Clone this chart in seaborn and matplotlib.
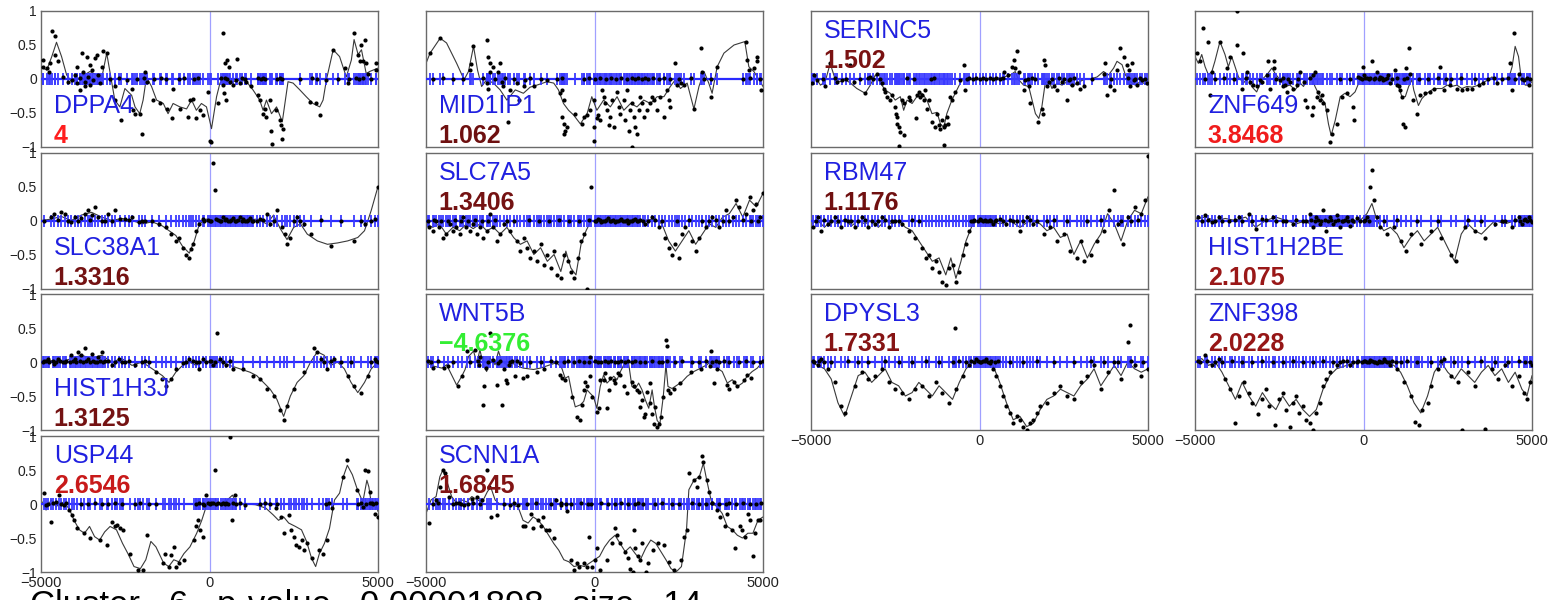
import numpy as np
import seaborn as sns
import matplotlib
matplotlib.use("Agg")
from matplotlib import pyplot as plt

# ---- data (x: bp from TSS, y: signal) ----
dppa4_line = [(-5000, 0.18), (-4830, 0.13), (-4680, 0.33), (-4540, 0.54), (-4390, 0.33), (-4240, 0.06), (-4090, -0.04),
              (-3840, 0.02), (-3550, 0.11), (-3350, 0.06), (-3200, 0.01), (-3050, 0.38), (-2810, -0.31), (-2660, -0.41),
              (-2510, -0.14), (-2310, -0.24), (-2210, -0.41), (-2070, -0.51), (-1970, -0.31), (-1870, 0.03), (-1720, -0.11),
              (-1570, -0.31), (-1370, -0.36), (-1230, -0.51), (-1080, -0.36), (-880, -0.41), (-680, -0.44), (-530, -0.31),
              (-390, -0.46), (-240, -0.36), (-90, -0.41), (60, -0.73), (210, -0.26), (310, -0.06), (500, 0.03), (700, -0.04),
              (900, -0.01), (1100, -0.04), (1290, -0.16), (1490, -0.31), (1590, -0.46), (1690, -0.31), (1840, -0.51),
              (1990, -0.41), (2160, -0.63), (2330, -0.04), (2480, -0.06), (2680, -0.16), (2870, -0.26), (3070, -0.36),
              (3270, -0.41), (3370, -0.31), (3470, -0.01), (3670, 0.43), (3860, 0.33), (4060, 0.03), (4210, 0.28),
              (4290, 0.58), (4410, 0.36), (4510, 0.43), (4650, 0.08), (4750, 0.11), (5000, 0.16)]
dppa4_dots = [(-4951, 0.28), (-4931, 0.18), (-4832, 0.16), (-4753, 0.11), (-4684, 0.70), (-4585, 0.63), (-4733, 0.23),
              (-4585, 0.36), (-4486, 0.26), (-4338, 0.03), (-4190, -0.04), (-4091, -0.01), (-3992, 0.06), (-3943, -0.06),
              (-3844, 0.01), (-3795, 0.38), (-3745, 0.11), (-3696, -0.04), (-3647, 0.33), (-3597, 0.03), (-3548, -0.09),
              (-3498, 0.13), (-3449, -0.01), (-3399, 0.31), (-3350, 0.36), (-3300, 0.06), (-3251, -0.06), (-3202, 0.18),
              (-3152, 0.41), (-3054, 0.38), (-3844, -0.16), (-3696, -0.11), (-3943, 0.18), (-3548, 0.21), (-2807, -0.31),
              (-2807, -0.11), (-2639, -0.61), (-2313, -0.14), (-2264, -0.46), (-2214, -0.51), (-2066, -0.51), (-2017, -0.81),
              (-1918, 0.11), (-1868, -0.04), (-1671, -0.31), (-1473, -0.36), (-1275, -0.44), (-1127, -0.58), (-1078, -0.15),
              (-880, -0.44), (-633, -0.56), (-584, -0.31), (-485, -0.29), (-386, -0.58), (-287, -0.46), (-189, -0.53),
              (-41, -0.19), (28, -0.91), (58, -0.93), (255, -0.36), (394, 0.68), (414, -0.09), (434, -0.21), (463, 0.23),
              (503, -0.31), (523, 0.28), (582, 0.18), (602, -0.04), (701, -0.09), (800, -0.01), (830, 0.29), (898, -0.06),
              (1096, -0.04), (1244, -0.11), (1442, -0.24), (1491, -0.31), (1590, -0.51), (1639, -0.44), (1689, -0.56),
              (1808, -0.31), (1837, -0.76), (1867, -0.96), (1985, -0.46), (2084, -0.61), (2134, -0.68), (2163, -0.88),
              (2183, -0.73), (2974, -0.34), (3171, -0.36), (3270, -0.53), (3467, -0.01), (3665, 0.43), (4011, 0.16),
              (4110, -0.06), (4287, 0.68), (4406, 0.36), (4455, 0.26), (4505, 0.50), (4604, 0.58), (4554, 0.26),
              (4653, 0.23), (4703, 0.08), (4950, 0.23), (4950, 0.13),
              (-2950, 0.0), (-2700, 0.01), (-2450, -0.01), (-2150, 0.0), (-1950, 0.02), (-1650, 0.0), (-1450, 0.01),
              (-1300, 0.0), (-900, 0.0), (-750, 0.01), (-450, 0.0), (-330, 0.01), (350, 0.02), (450, 0.01), (520, 0.0),
              (950, 0.01), (1050, 0.0), (1450, 0.01), (1520, 0.0), (1600, 0.02), (1650, 0.0), (2000, 0.0), (2100, 0.01),
              (2150, 0.0), (2700, 0.0), (3050, 0.01), (3200, 0.0), (3800, 0.0), (4150, 0.0), (4350, 0.01), (4450, 0.0),
              (4560, 0.01), (4800, 0.0)]

mid1ip1_line = [(-5000, 0.23), (-4880, 0.38), (-4580, 0.60), (-4390, 0.53), (-4090, 0.23), (-3870, -0.01), (-3740, 0.11),
                (-3590, 0.48), (-3470, 0.13), (-3350, -0.11), (-3200, -0.01), (-3000, -0.06), (-2800, -0.16), (-2600, -0.31),
                (-2350, -0.16), (-2110, -0.21), (-1910, -0.12), (-1710, -0.09), (-1410, -0.04), (-1210, -0.06), (-1070, -0.16),
                (-920, -0.36), (-770, -0.46), (-620, -0.53), (-420, -0.66), (-220, -0.51), (-80, -0.26), (70, -0.46),
                (270, -0.31), (470, -0.41), (670, -0.26), (870, -0.46), (1070, -0.36), (1260, -0.41), (1460, -0.31),
                (1660, -0.36), (1860, -0.26), (2060, -0.26), (2250, -0.11), (2400, -0.01), (2550, -0.14), (2750, -0.06),
                (2950, -0.44), (3100, -0.11), (3250, 0.11), (3390, -0.06), (3490, -0.21), (3640, 0.18), (3840, 0.38),
                (4140, 0.50), (4460, 0.55), (4580, 0.18), (4730, 0.11), (4880, -0.01), (5000, -0.11)]
mid1ip1_dots = [(-4881, 0.38), (-4584, 0.60), (-3662, 0.22), (-3692, 0.13), (-3613, 0.48), (-3196, 0.58), (-3147, 0.33),
                (-3097, 0.23), (-3097, 0.11), (-2998, 0.18), (-2800, 0.23), (-2850, 0.11), (-3196, -0.06), (-3147, -0.14),
                (-2750, -0.04), (-2701, -0.11), (-2552, -0.63), (-2503, -0.16), (-2305, -0.06), (-2255, -0.31), (-2106, -0.11),
                (-2057, -0.01), (-1810, -0.11), (-1413, -0.01), (-967, -0.16), (-1016, -0.21), (-917, -0.31), (-967, -0.56),
                (-917, -0.66), (-868, -0.76), (-818, -0.71), (-917, -0.81), (-570, -0.51), (-372, -0.66), (-323, -0.56),
                (-224, -0.53), (-125, -0.46), (-25, -0.31), (-25, -0.71), (-6, -0.91), (74, -0.58), (94, -0.53), (173, -0.61),
                (272, -0.26), (222, -0.16), (322, -0.36), (371, -0.46), (421, -0.68), (470, -0.56), (520, -0.31), (569, -0.71),
                (669, -0.19), (718, -0.41), (768, -0.51), (867, -0.31), (916, -0.61), (966, -0.16), (1015, -0.76),
                (1065, -0.46), (1114, -0.36), (1164, -0.56), (1213, -0.71), (1263, -0.81), (1313, -0.46), (1362, -0.26),
                (1412, -0.36), (1461, -0.56), (1560, -0.46), (1659, -0.36), (1709, -0.26), (1759, -0.31), (1858, -0.46),
                (1957, -0.26), (2056, -0.56), (2155, -0.16), (2205, -0.31), (2254, -0.41), (2403, 0.23), (2453, -0.09),
                (2552, -0.06), (2651, -0.09), (2948, -0.44), (3146, 0.46), (3196, 0.11), (3443, -0.26), (3642, 0.18),
                (4484, 0.55), (4533, 0.28), (4583, 0.13), (4831, 0.33), (4831, 0.26), (4930, -0.16), (4732, 0.16),
                (1114, -1.0),
                (-4800, 0.0), (-4500, 0.01), (-4200, 0.0), (-3900, 0.0), (-3300, 0.01), (-2950, 0.0), (-2650, 0.02),
                (-2400, 0.0), (-1900, 0.01), (-1600, 0.0), (-1100, 0.0), (-950, 0.01), (-300, 0.0), (-150, 0.01), (0, 0.0),
                (150, 0.02), (350, 0.0), (500, 0.01), (650, 0.0), (800, 0.02), (950, 0.0), (1100, 0.01), (1200, 0.0),
                (1300, 0.02), (1400, 0.0), (1500, 0.01), (1600, 0.0), (1750, 0.01), (1900, 0.0), (2050, 0.02), (2250, 0.0),
                (2500, 0.0), (2850, 0.01), (3250, 0.0), (3450, 0.0), (4400, 0.0), (4600, 0.01), (4900, 0.0)]

serinc5_line = [(-5000, -0.01), (-4870, 0.03), (-4720, -0.09), (-4580, -0.04), (-4430, 0.23), (-4280, -0.01), (-4130, -0.04),
                (-3980, -0.01), (-3830, -0.06), (-3640, -0.14), (-3390, -0.21), (-3240, -0.09), (-3090, 0.06), (-2940, -0.06),
                (-2800, -0.16), (-2650, -0.21), (-2500, -0.31), (-2350, -0.26), (-2250, -0.46), (-2150, -0.31), (-2000, -0.36),
                (-1860, -0.26), (-1710, -0.21), (-1560, -0.31), (-1410, -0.51), (-1260, -0.49), (-1160, -0.66), (-1060, -0.71),
                (-970, -0.51), (-820, -0.31), (-670, -0.16), (-520, -0.01), (-270, 0.0), (20, 0.0), (520, 0.01), (720, 0.03),
                (920, 0.06), (1060, 0.11), (1160, -0.01), (1310, -0.09), (1460, -0.11), (1560, -0.31), (1660, -0.51),
                (1760, -0.58), (1850, -0.41), (1950, -0.06), (2050, -0.01), (2150, -0.14), (2300, -0.06), (2450, -0.09),
                (2600, -0.04), (2740, -0.11), (2890, -0.06), (3090, -0.01), (3290, 0.0), (3490, 0.03), (3680, 0.11),
                (3830, 0.06), (3980, 0.16), (4080, 0.26), (4230, 0.21), (4330, 0.06), (4480, -0.04), (4620, -0.09),
                (4770, -0.04), (5000, -0.09)]
serinc5_dots = [(-4970, -0.06), (-4920, 0.06), (-4820, -0.01), (-4570, -0.11), (-4430, 0.23), (-4230, -0.04), (-4080, -0.01),
                (-3830, 0.21), (-3730, -0.04), (-3390, -0.21), (-3240, 0.03), (-3040, 0.08), (-2890, -0.06), (-2840, -0.14),
                (-2790, -0.19), (-2740, -0.26), (-2650, -0.31), (-2600, -0.24), (-2500, -0.41), (-2470, -0.51), (-2450, -0.56),
                (-2450, -0.66), (-2400, -0.71), (-2350, -0.78), (-2250, -0.83), (-2400, -0.99), (-2300, -0.31), (-2250, -0.36),
                (-2100, -0.26), (-2050, -0.31), (-1880, -0.58), (-1850, -0.24), (-1810, -0.19), (-1760, -0.26), (-1710, -0.24),
                (-1660, -0.31), (-1610, -0.16), (-1560, -0.44), (-1510, -0.31), (-1410, -0.63), (-1310, -0.71), (-1260, -0.51),
                (-1210, -0.68), (-1160, -0.73), (-1110, -0.61), (-1060, -0.71), (-1060, -0.97), (-1010, -0.68), (-960, -0.56),
                (-920, -0.66), (-870, -0.26), (-820, -0.31), (-720, -0.19), (-570, -0.01), (-470, 0.21), (-420, -0.16),
                (-380, 0.0), (-300, 0.01), (-200, 0.0), (-100, 0.02), (0, 0.0), (100, 0.01), (200, 0.0), (300, 0.02),
                (400, 0.0), (500, 0.01), (600, 0.0), (700, 0.02),
                (720, 0.11), (860, 0.06), (960, 0.18), (1010, 0.28), (1060, 0.16), (1110, 0.41), (1160, 0.11), (1310, -0.16),
                (1360, -0.01), (1460, -0.11), (1510, -0.36), (1750, -0.63), (1850, -0.44), (1880, -0.51), (1900, 0.28),
                (1930, 0.21), (2000, -0.11), (2050, -0.04), (2200, -0.11), (2300, -0.16), (2450, -0.04), (2600, -0.31),
                (2650, -0.01), (2740, -0.09), (2890, -0.06), (2990, -0.14), (3090, -0.11), (3680, 0.08), (3730, 0.23),
                (3780, -0.24), (3880, -0.11), (3980, -0.16), (4080, 0.13), (4160, 0.46), (4280, 0.33), (4380, 0.21),
                (4430, 0.13), (4480, -0.11), (4520, 0.23), (4570, -0.01), (4670, -0.09), (4820, -0.01), (4970, -0.06),
                (-4650, 0.0), (-4300, 0.01), (-3950, 0.0), (-3550, 0.0), (-3300, 0.01), (-3150, 0.0), (-2950, 0.0),
                (-2150, 0.01), (-1950, 0.0), (-1450, 0.0), (-1350, 0.01), (1450, 0.0), (1550, 0.01), (1650, 0.0),
                (2150, 0.0), (2350, 0.01), (2500, 0.0), (2700, 0.0), (2800, 0.01), (3350, 0.0), (3900, 0.0), (4400, 0.01),
                (4600, 0.0), (4750, 0.01), (4900, 0.0)]

znf649_line = [(-5000, 0.33), (-4900, 0.23), (-4800, 0.36), (-4700, 0.18), (-4600, 0.06), (-4500, 0.11), (-4410, 0.26),
               (-4260, 0.55), (-4110, 0.36), (-4010, 0.18), (-3910, 0.33), (-3810, 0.18), (-3710, 0.03), (-3560, -0.06),
               (-3420, 0.03), (-3320, -0.11), (-3170, -0.19), (-3020, -0.01), (-2870, 0.06), (-2720, 0.16), (-2620, 0.08),
               (-2480, -0.01), (-2330, -0.11), (-2180, -0.09), (-2030, -0.16), (-1880, -0.06), (-1780, -0.11), (-1680, -0.01),
               (-1540, 0.03), (-1440, -0.11), (-1340, -0.21), (-1240, -0.29), (-1140, -0.36), (-1040, -0.66), (-960, -0.83),
               (-840, -0.61), (-690, -0.26), (-550, -0.21), (-400, -0.26), (-250, -0.19), (-100, -0.01), (0, 0.0), (200, 0.0),
               (590, -0.01), (840, 0.01), (990, -0.04), (1140, -0.26), (1240, -0.26), (1340, -0.11), (1440, -0.01),
               (1490, -0.16), (1630, -0.39), (1730, -0.29), (1880, -0.21), (2030, -0.16), (2180, -0.14), (2330, -0.14),
               (2480, -0.09), (2620, -0.11), (2770, -0.09), (2920, -0.14), (3070, -0.11), (3220, -0.12), (3420, -0.09),
               (3560, -0.05), (3710, -0.01), (3810, 0.03), (3960, -0.01), (4110, 0.01), (4310, 0.01), (4410, 0.18),
               (4500, 0.48), (4600, 0.33), (4680, 0.01), (4800, -0.09), (4900, -0.09), (5000, -0.04)]
znf649_dots = [(-4950, 0.38), (-4850, 0.26), (-4770, 0.75), (-4600, 0.55), (-4550, -0.24), (-4500, 0.11), (-4260, 0.55),
               (-4040, 0.16), (-3960, 0.33), (-3740, 1.0), (-3760, 0.50), (-3610, -0.14), (-3580, 0.38), (-3470, 0.11),
               (-3370, -0.04), (-3270, -0.09), (-3170, -0.11), (-3070, -0.01), (-3020, -0.04), (-2870, 0.06), (-2820, 0.26),
               (-2670, 0.26), (-2770, -0.14), (-2650, 0.16), (-2480, -0.01), (-2380, -0.11), (-2330, -0.09), (-2280, -0.19),
               (-2180, -0.04), (-2080, -0.14), (-1980, -0.09), (-1880, 0.11), (-1780, -0.04), (-1730, -0.31), (-1680, -0.41),
               (-1540, -0.53), (-1490, -0.41), (-1490, 0.06), (-1440, 0.11), (-1390, -0.26), (-1340, -0.19), (-1290, -0.31),
               (-1240, -0.24), (-1190, -0.36), (-1090, -0.46), (-990, -0.93), (-940, -0.81), (-790, -0.66), (-640, -0.26),
               (-500, -0.21), (-300, -0.41), (-280, -0.61), (-150, 0.03), (-20, 0.18), (0, 0.06), (100, 0.01), (250, 0.26),
               (400, 0.11), (490, 0.03), (590, -0.01), (740, 0.06), (790, -0.06), (940, 0.13), (990, -0.09), (1040, -0.11),
               (1090, -0.16), (1140, -0.26), (1170, -0.66), (1240, -0.71), (1270, 0.16), (1340, 0.46), (1390, 0.08),
               (1480, -0.31), (1580, -0.51), (1680, -0.24), (1830, -0.21), (1980, -0.19), (2080, -0.14), (2280, 0.18),
               (2380, -0.16), (2570, -0.09), (2770, -0.14), (2920, -0.16), (3070, -0.14), (3220, -0.14), (3420, -0.09),
               (3560, -0.06), (3860, 0.02), (3960, -0.06), (4360, 0.23), (4410, -0.16), (4480, 0.68), (4600, 0.08),
               (4750, -0.01), (4900, -0.09),
               (-4700, 0.0), (-4400, 0.0), (-4150, 0.01), (-3850, 0.0), (-3500, 0.01), (-2600, 0.0), (-2400, 0.01),
               (-2250, 0.0), (-1950, 0.0), (-1600, 0.01), (-700, 0.0), (-400, 0.0), (-100, 0.01), (-50, 0.0), (50, 0.02),
               (150, 0.0), (200, 0.01), (300, 0.0), (350, 0.02), (450, 0.0), (550, 0.01), (650, 0.0), (700, 0.02),
               (850, 0.0), (1000, 0.01), (1200, 0.0), (1300, 0.01), (1650, 0.0), (1900, 0.0), (2200, 0.01), (2450, 0.0),
               (2600, 0.0), (2900, 0.01), (3300, 0.0), (3700, 0.0), (4100, 0.0), (4300, 0.01), (4500, 0.0), (4700, 0.0),
               (4850, 0.01), (4950, 0.0)]

slc38a1_line = [(-5000, 0.0), (-4700, 0.02), (-4400, 0.06), (-4100, 0.0), (-3800, 0.08), (-3500, 0.12), (-3200, 0.05),
                (-2900, 0.0), (-2600, 0.03), (-2300, 0.0), (-2000, -0.05), (-1700, -0.02), (-1400, -0.08), (-1200, -0.15),
                (-1000, -0.22), (-800, -0.38), (-600, -0.48), (-450, -0.3), (-300, -0.05), (-100, 0.02), (200, 0.0),
                (600, 0.03), (1000, 0.0), (1400, 0.02), (1700, -0.05), (1900, 0.08), (2100, -0.12), (2300, -0.28),
                (2500, -0.1), (2700, -0.05), (2900, -0.2), (3200, -0.3), (3500, -0.35), (3800, -0.33), (4100, -0.3),
                (4400, -0.25), (4600, -0.15), (4800, 0.15), (5000, 0.5)]
slc38a1_dots = [(-4700, 0.05), (-4600, 0.1), (-4400, 0.12), (-4300, 0.1), (-4100, -0.02), (-4000, 0.05), (-3800, 0.03),
                (-3700, 0.1), (-3600, 0.15), (-3500, 0.08), (-3400, 0.2), (-3300, 0.05), (-3100, 0.0), (-3000, 0.1),
                (-2800, 0.15), (-2650, 0.02), (-2500, 0.02), (-2300, 0.05), (-2100, -0.02), (-1900, 0.0), (-1500, -0.05),
                (-1300, -0.1), (-1150, -0.2), (-1000, -0.3), (-900, -0.25), (-800, -0.4), (-700, -0.5), (-600, -0.55),
                (-550, -0.42), (-500, -0.35), (-400, -0.15), (-300, -0.05), (-200, 0.02), (0, 0.0), (100, 0.85), (150, 0.45),
                (200, 0.02), (300, 0.0), (400, 0.05), (500, 0.02), (600, 0.0), (700, 0.03), (800, 0.0), (900, 0.05),
                (1000, 0.02), (1100, 0.0), (1200, 0.03), (1300, 0.0), (1500, 0.02), (1700, 0.1), (1800, -0.05), (2000, 0.15),
                (2150, -0.1), (2250, -0.2), (2300, -0.35), (2400, -0.25), (2500, 0.0), (2600, 0.05), (2800, -0.05),
                (3000, -0.2), (3600, -0.38), (4300, -0.3), (4600, -0.05), (4800, 0.0), (4900, 0.02), (5000, 0.5),
                (-4900, 0.0), (-4500, 0.01), (-4200, 0.0), (-3900, 0.0), (-3550, 0.01), (-3200, 0.0), (-2900, 0.0),
                (-2400, 0.01), (-2000, 0.0), (-1700, 0.0), (-150, 0.0), (-50, 0.01), (50, 0.0), (250, 0.01), (350, 0.0),
                (450, 0.01), (550, 0.0), (650, 0.01), (750, 0.0), (850, 0.01), (950, 0.0), (1050, 0.0), (1150, 0.01),
                (1250, 0.0), (1400, 0.0), (1600, 0.01), (1900, 0.0), (2700, 0.0), (3300, 0.01), (3900, 0.0), (4500, 0.0)]

slc7a5_line = [(-5000, -0.05), (-4800, -0.1), (-4600, -0.05), (-4400, -0.2), (-4200, -0.1), (-4000, -0.15), (-3800, -0.05),
               (-3600, -0.12), (-3400, -0.05), (-3200, -0.15), (-3000, -0.1), (-2800, -0.2), (-2600, -0.1), (-2400, -0.25),
               (-2200, -0.35), (-2000, -0.3), (-1800, -0.5), (-1600, -0.4), (-1400, -0.6), (-1200, -0.5), (-1000, -0.75),
               (-850, -0.45), (-700, -0.7), (-550, -0.8), (-400, -0.35), (-250, -0.15), (-100, 0.0), (200, 0.0), (600, 0.02),
               (1000, 0.0), (1400, 0.0), (1800, 0.02), (2000, -0.05), (2200, -0.3), (2400, -0.45), (2600, -0.3),
               (2800, -0.15), (3000, -0.35), (3200, -0.2), (3400, -0.05), (3600, -0.1), (3800, 0.05), (4000, 0.1),
               (4200, 0.25), (4400, 0.05), (4600, 0.3), (4800, 0.2), (5000, 0.4)]
slc7a5_dots = [(-4900, -0.1), (-4800, -0.15), (-4700, 0.0), (-4600, -0.1), (-4500, -0.25), (-4400, -0.2), (-4300, -0.05),
               (-4200, -0.15), (-4100, -0.1), (-4000, -0.2), (-3900, 0.05), (-3800, -0.1), (-3700, -0.15), (-3600, -0.05),
               (-3500, -0.2), (-3400, -0.1), (-3300, -0.25), (-3200, -0.15), (-3100, 0.1), (-3000, -0.1), (-2900, -0.3),
               (-2800, -0.2), (-2700, -0.05), (-2500, -0.15), (-2300, -0.3), (-2200, -0.45), (-2100, -0.25), (-2000, -0.4),
               (-1900, -0.55), (-1800, -0.45), (-1700, -0.6), (-1600, -0.35), (-1500, -0.65), (-1400, -0.5), (-1300, -0.7),
               (-1200, -0.45), (-1100, -0.8), (-1000, -0.85), (-900, -0.5), (-800, -0.6), (-700, -0.75), (-600, -0.85),
               (-500, -0.55), (-400, -0.3), (-300, -0.2), (-220, -1.0), (-100, 0.5), (0, 0.0), (100, 0.02), (200, -0.02),
               (300, 0.0), (400, 0.03), (500, 0.0), (600, -0.02), (700, 0.0), (800, 0.02), (900, 0.0), (1000, -0.03),
               (1100, 0.0), (1200, 0.02), (1300, 0.0), (1500, -0.05), (1700, 0.05), (1900, -0.1), (2100, -0.25),
               (2200, -0.4), (2300, -0.5), (2400, -0.35), (2500, -0.55), (2600, -0.2), (2700, -0.1), (2900, -0.3),
               (3000, -0.45), (3100, -0.25), (3300, -0.1), (3500, 0.05), (3700, -0.1), (3900, 0.15), (4100, 0.05),
               (4200, 0.3), (4300, 0.2), (4500, 0.1), (4600, 0.35), (4700, 0.15), (4800, 0.25), (4900, 0.05), (5000, 0.4),
               (-4950, 0.0), (-4750, 0.01), (-4550, 0.0), (-4350, 0.0), (-4150, 0.01), (-3950, 0.0), (-3750, 0.0),
               (-3550, 0.01), (-3350, 0.0), (-3150, 0.0), (-2950, 0.01), (-2600, 0.0), (-2400, 0.0), (-1950, 0.01),
               (-1650, 0.0), (-1350, 0.0), (-1050, 0.01), (-750, 0.0), (-450, 0.0), (-150, 0.01), (50, 0.0), (150, 0.01),
               (250, 0.0), (350, 0.01), (450, 0.0), (550, 0.01), (650, 0.0), (750, 0.01), (850, 0.0), (950, 0.01),
               (1050, 0.0), (1150, 0.01), (1250, 0.0), (1350, 0.01), (1450, 0.0), (1600, 0.0), (1800, 0.01), (2000, 0.0),
               (2450, 0.0), (2800, 0.01), (3200, 0.0), (3400, 0.0), (3600, 0.01), (3800, 0.0), (4000, 0.0), (4400, 0.01),
               (4650, 0.0), (4850, 0.0)]

rbm47_line = [(-5000, -0.05), (-4800, 0.0), (-4600, -0.1), (-4400, 0.0), (-4200, -0.05), (-4000, 0.02), (-3800, -0.08),
              (-3600, 0.0), (-3400, -0.05), (-3200, 0.0), (-3000, -0.1), (-2800, 0.0), (-2600, -0.05), (-2400, 0.0),
              (-2200, -0.1), (-2000, -0.15), (-1800, -0.3), (-1600, -0.45), (-1400, -0.6), (-1200, -0.55), (-1000, -0.8),
              (-850, -0.55), (-700, -0.85), (-550, -0.6), (-400, -0.3), (-200, -0.05), (0, 0.0), (300, 0.0), (600, -0.05),
              (900, 0.0), (1200, -0.1), (1500, 0.0), (1800, -0.05), (2000, -0.15), (2200, -0.1), (2400, -0.25),
              (2600, -0.2), (2800, -0.5), (3000, -0.3), (3200, -0.55), (3400, -0.35), (3600, -0.2), (3800, 0.1),
              (4000, -0.05), (4200, -0.3), (4400, 0.0), (4600, 0.15), (4800, 0.1), (5000, 0.35)]
rbm47_dots = [(-4950, -0.1), (-4800, 0.05), (-4700, -0.15), (-4500, -0.05), (-4300, 0.05), (-4100, -0.1), (-3900, 0.0),
              (-3700, -0.1), (-3500, 0.05), (-3300, -0.1), (-3100, -0.05), (-2900, 0.05), (-2700, -0.1), (-2500, 0.0),
              (-2300, -0.05), (-2100, -0.15), (-1900, -0.25), (-1700, -0.4), (-1600, -0.55), (-1500, -0.5), (-1400, -0.7),
              (-1300, -0.6), (-1200, -0.75), (-1100, -0.9), (-1000, -0.95), (-900, -0.7), (-800, -0.65), (-700, -0.9),
              (-600, -0.75), (-500, -0.5), (-400, -0.35), (-300, -0.15), (-200, 0.0), (0, 0.02), (200, 0.0), (400, -0.05),
              (600, 0.02), (800, -0.05), (1000, 0.0), (1200, -0.15), (1400, 0.05), (1600, -0.05), (1900, -0.2),
              (2100, -0.1), (2300, -0.3), (2500, -0.2), (2700, -0.45), (2900, -0.55), (3000, -0.3), (3100, -0.6),
              (3300, -0.5), (3500, -0.3), (3700, -0.15), (3850, 0.15), (4000, 0.45), (4100, -0.05), (4250, -0.35),
              (4400, 0.05), (4600, 0.2), (4800, 0.1), (4900, 0.3), (5000, 0.95),
              (-4850, 0.0), (-4600, 0.01), (-4400, 0.0), (-4200, 0.0), (-4000, 0.01), (-3800, 0.0), (-3600, 0.0),
              (-3400, 0.01), (-3200, 0.0), (-3000, 0.0), (-2800, 0.01), (-2600, 0.0), (-2400, 0.0), (-2000, 0.01),
              (-1800, 0.0), (-250, 0.0), (-150, 0.01), (-50, 0.0), (50, 0.01), (100, 0.0), (150, 0.01), (250, 0.0),
              (300, 0.01), (350, 0.0), (450, 0.0), (500, 0.01), (700, 0.0), (900, 0.01), (1100, 0.0), (1300, 0.0),
              (1500, 0.01), (1700, 0.0), (2000, 0.0), (2200, 0.01), (2600, 0.0), (3200, 0.0), (3600, 0.01), (4200, 0.0),
              (4500, 0.0), (4700, 0.01)]

hist1h2be_line = [(-5000, 0.02), (-4700, 0.05), (-4400, 0.0), (-4100, 0.03), (-3800, 0.0), (-3500, 0.05), (-3200, -0.1),
                  (-2900, 0.0), (-2600, 0.05), (-2300, 0.0), (-2000, -0.05), (-1700, 0.0), (-1500, -0.1), (-1300, 0.05),
                  (-1100, -0.1), (-900, 0.0), (-700, -0.05), (-500, 0.0), (-300, -0.05), (-100, 0.0), (100, 0.1),
                  (250, 0.25), (400, 0.0), (600, -0.15), (800, -0.1), (1000, -0.2), (1200, -0.4), (1400, -0.25),
                  (1600, -0.15), (1800, -0.3), (2000, -0.2), (2200, -0.1), (2400, -0.3), (2700, -0.6), (2900, -0.2),
                  (3100, -0.05), (3300, -0.15), (3500, -0.2), (3700, -0.1), (3900, 0.0), (4200, -0.05), (4500, 0.0),
                  (4800, 0.03), (5000, 0.0)]
hist1h2be_dots = [(-4900, 0.05), (-4700, 0.08), (-4500, -0.02), (-4300, 0.05), (-4000, 0.0), (-3700, 0.05), (-3400, 0.1),
                  (-3200, -0.12), (-3000, 0.02), (-2700, 0.05), (-2400, 0.0), (-2100, -0.05), (-1800, 0.0), (-1600, 0.1),
                  (-1500, -0.1), (-1400, 0.05), (-1300, -0.05), (-1200, 0.15), (-1100, -0.15), (-1000, 0.05), (-900, -0.05),
                  (-800, 0.08), (-700, -0.1), (-600, 0.0), (-500, 0.05), (-400, -0.08), (-300, 0.0), (-200, 0.03), (0, 0.0),
                  (100, 0.05), (200, 0.5), (250, 0.75), (300, 0.3), (400, 0.05), (500, -0.1), (700, -0.2), (900, -0.1),
                  (1100, -0.3), (1250, -0.45), (1400, -0.2), (1700, -0.35), (2000, -0.15), (2300, -0.25), (2600, -0.5),
                  (2750, -0.6), (3000, -0.1), (3300, -0.15), (3600, -0.25), (3900, -0.05), (4200, 0.0), (4400, -0.1),
                  (4600, 0.05), (4700, -0.05), (4800, 0.02), (4900, 0.05), (5000, -0.02),
                  (-4800, 0.0), (-4600, 0.01), (-4400, 0.0), (-4200, 0.0), (-3800, 0.01), (-3600, 0.0), (-3300, 0.0),
                  (-2900, 0.01), (-2600, 0.0), (-2300, 0.0), (-2000, 0.01), (-1700, 0.0), (-1550, 0.01), (-1450, 0.0),
                  (-1350, 0.01), (-1250, 0.0), (-1150, 0.01), (-1050, 0.0), (-950, 0.01), (-850, 0.0), (-750, 0.01),
                  (-650, 0.0), (-550, 0.01), (-450, 0.0), (-350, 0.01), (-100, 0.0), (50, 0.01), (150, 0.0), (600, 0.0),
                  (1000, 0.01), (1600, 0.0), (2200, 0.0), (3100, 0.01), (3500, 0.0), (4100, 0.0), (4500, 0.01),
                  (4650, 0.0), (4750, 0.01), (4850, 0.0), (4950, 0.01)]

hist1h3j_line = [(-5000, 0.0), (-4700, 0.02), (-4400, 0.0), (-4100, 0.05), (-3800, 0.1), (-3500, 0.05), (-3200, 0.1),
                 (-2900, 0.0), (-2600, 0.05), (-2300, -0.05), (-2000, 0.0), (-1700, -0.1), (-1400, -0.2), (-1200, -0.3),
                 (-1000, -0.15), (-800, -0.05), (-600, 0.0), (-400, -0.05), (-200, 0.0), (0, 0.0), (300, 0.02), (600, -0.05),
                 (900, -0.1), (1200, -0.15), (1400, -0.2), (1600, -0.3), (1800, -0.4), (2000, -0.55), (2200, -0.8),
                 (2400, -0.5), (2600, -0.3), (2800, -0.2), (3000, 0.0), (3200, 0.15), (3400, 0.1), (3600, -0.05),
                 (3800, 0.0), (4000, -0.1), (4200, -0.3), (4400, -0.45), (4600, -0.3), (4800, -0.1), (5000, 0.0)]
hist1h3j_dots = [(-4900, 0.02), (-4800, 0.05), (-4600, -0.03), (-4500, 0.05), (-4300, 0.0), (-4100, 0.1), (-4000, 0.05),
                 (-3900, 0.15), (-3800, 0.1), (-3700, 0.2), (-3600, 0.05), (-3500, 0.12), (-3400, 0.0), (-3300, 0.08),
                 (-3200, 0.15), (-3100, 0.02), (-2900, -0.05), (-2700, 0.05), (-2500, 0.0), (-2200, -0.05), (-1900, 0.02),
                 (-1600, -0.15), (-1400, -0.25), (-1300, -0.35), (-1150, -0.25), (-1000, -0.1), (-800, -0.02), (-600, 0.05),
                 (-400, 0.0), (-300, -0.1), (-200, 0.05), (0, 0.02), (100, -0.05), (220, 0.42), (300, 0.05), (500, -0.05),
                 (700, -0.1), (1000, -0.1), (1300, -0.2), (1500, -0.25), (1700, -0.4), (1900, -0.5), (2100, -0.7),
                 (2200, -0.85), (2300, -0.65), (2500, -0.4), (2800, -0.15), (3100, 0.2), (3200, 0.15), (3300, 0.05),
                 (3500, -0.1), (3700, 0.05), (3900, 0.0), (4100, -0.2), (4300, -0.35), (4500, -0.45), (4700, -0.2),
                 (4900, 0.05), (5000, 0.0),
                 (-4950, 0.0), (-4850, 0.01), (-4750, 0.0), (-4650, 0.01), (-4550, 0.0), (-4450, 0.01), (-4350, 0.0),
                 (-4250, 0.01), (-4150, 0.0), (-4050, 0.01), (-3950, 0.0), (-3850, 0.01), (-3750, 0.0), (-3650, 0.01),
                 (-3550, 0.0), (-3450, 0.01), (-3350, 0.0), (-3250, 0.01), (-3150, 0.0), (-3000, 0.01), (-2800, 0.0),
                 (-2600, 0.0), (-2400, 0.01), (-2000, 0.0), (-1800, 0.0), (-700, 0.0), (-500, 0.01), (-300, 0.0),
                 (-100, 0.0), (50, 0.01), (150, 0.0), (400, 0.0), (600, 0.01), (3400, 0.0), (3600, 0.01), (4200, 0.0),
                 (4800, 0.0), (4950, 0.01)]

wnt5b_line = [(-5000, -0.01), (-4780, -0.06), (-4530, -0.09), (-4390, -0.04), (-4240, -0.19), (-4090, -0.34), (-3940, -0.21),
              (-3840, -0.11), (-3740, 0.08), (-3590, 0.16), (-3490, -0.01), (-3400, 0.18), (-3300, -0.04), (-3200, -0.14),
              (-3100, 0.06), (-2950, -0.04), (-2850, 0.16), (-2750, 0.01), (-2600, -0.04), (-2450, -0.01), (-2300, -0.06),
              (-2110, -0.09), (-1810, -0.11), (-1610, -0.09), (-1310, -0.04), (-1120, -0.01), (-970, -0.09), (-870, -0.24),
              (-770, -0.21), (-670, -0.46), (-570, -0.66), (-420, -0.63), (-320, -0.58), (-220, -0.41), (-130, -0.46),
              (-30, -0.51), (70, -0.68), (170, -0.36), (270, -0.19), (370, -0.31), (470, -0.26), (570, -0.21),
              (670, -0.26), (770, -0.14), (870, -0.04), (1010, -0.01), (1110, -0.36), (1210, -0.39), (1310, -0.31),
              (1410, -0.41), (1510, -0.56), (1610, -0.68), (1710, -0.41), (1780, -0.66), (1860, -0.86), (1940, -0.91),
              (2040, -0.51), (2120, -0.04), (2180, -0.36), (2300, -0.39), (2450, -0.34), (2600, -0.29), (2750, -0.21),
              (2950, -0.14), (3150, -0.09), (3340, -0.04), (3490, 0.03), (3640, -0.09), (3790, -0.14), (3940, -0.31),
              (4090, -0.26), (4240, -0.36), (4390, -0.31), (4530, -0.21), (4680, -0.14), (4830, -0.09), (5000, 0.01)]
wnt5b_dots = [(-4930, 0.01), (-4780, -0.09), (-4480, -0.09), (-4340, -0.06), (-4040, -0.35), (-3940, -0.21), (-3770, 0.16),
              (-3540, 0.18), (-3440, -0.04), (-3390, 0.08), (-3300, -0.63), (-3280, -0.36), (-3220, -0.09), (-3100, 0.43),
              (-3000, 0.03), (-2900, -0.34), (-2850, -0.01), (-2750, -0.63), (-2680, -0.11), (-2620, -0.26), (-2600, -0.31),
              (-2550, -0.04), (-2450, 0.01), (-2350, -0.21), (-2210, -0.01), (-2110, -0.24), (-2010, -0.21), (-1710, -0.14),
              (-1510, -0.11), (-1020, -0.19), (-970, -0.24), (-870, -0.26), (-670, -0.51), (-520, -0.81), (-420, -0.86),
              (-370, -0.63), (-320, -0.41), (-270, -0.29), (-220, -0.36), (-140, 0.08), (-120, -0.21), (-70, -0.51),
              (70, -0.73), (120, -0.68), (170, -0.26), (270, -0.26), (320, -0.16), (370, -0.68), (420, -0.41),
              (470, -0.24), (570, -0.26), (620, -0.31), (690, -0.16), (770, -0.19), (870, -0.36), (970, -0.46),
              (1110, -0.29), (1160, -0.36), (1260, -0.41), (1310, -0.44), (1360, -0.66), (1410, -0.56), (1460, -0.81),
              (1510, -0.76), (1560, -0.44), (1640, -0.31), (1660, -0.61), (1710, -0.76), (1760, -0.91), (1810, -0.66),
              (1840, -0.96), (1910, -0.91), (1960, -0.81), (2040, -0.51), (2110, 0.33), (2140, 0.23), (2170, -0.41),
              (2250, -0.46), (2350, -0.39), (2550, -0.31), (2850, -0.14), (3150, -0.11), (3440, -0.06), (3450, 0.16),
              (3540, -0.31), (3640, -0.11), (3940, -0.34), (3990, -0.39), (4140, -0.29), (4240, -0.36), (4430, -0.26),
              (4530, -0.19), (4630, -0.24),
              (-4850, 0.0), (-4650, 0.01), (-4200, 0.0), (-3700, 0.0), (-3450, 0.01), (-3150, 0.0), (-2800, 0.01),
              (-2500, 0.0), (-2300, 0.01), (-1900, 0.0), (-1600, 0.0), (-1300, 0.01), (-1150, 0.0), (-900, 0.0),
              (-800, 0.01), (-600, 0.0), (-450, 0.01), (-300, 0.0), (-150, 0.0), (0, 0.01), (100, 0.0), (200, 0.0),
              (300, 0.02), (400, 0.0), (500, 0.01), (600, 0.0), (700, 0.0), (800, 0.01), (900, 0.0), (1000, 0.02),
              (1100, 0.0), (1200, 0.01), (1350, 0.0), (1500, 0.0), (1700, 0.01), (1900, 0.0), (2000, 0.0), (2150, 0.01),
              (2400, 0.0), (2600, 0.01), (2900, 0.0), (3100, 0.0), (3300, 0.01), (3500, 0.0), (3600, 0.02), (3700, 0.0),
              (3850, 0.01), (4000, 0.0), (4300, 0.0), (4500, 0.01), (4700, 0.0), (4900, 0.0), (5000, 0.01)]

dpysl3_line = [(-5000, 0.0), (-4800, -0.05), (-4600, -0.1), (-4400, -0.25), (-4200, -0.6), (-4000, -0.8), (-3800, -0.5),
               (-3600, -0.2), (-3400, -0.15), (-3200, -0.3), (-3000, -0.2), (-2800, -0.1), (-2600, -0.3), (-2400, -0.35),
               (-2200, -0.5), (-2000, -0.45), (-1800, -0.3), (-1600, -0.4), (-1400, -0.5), (-1200, -0.35), (-1000, -0.45),
               (-800, -0.55), (-600, -0.3), (-400, -0.1), (-200, 0.0), (0, 0.0), (200, 0.0), (400, -0.05), (600, -0.3),
               (800, -0.6), (1000, -0.85), (1200, -0.8), (1400, -0.95), (1600, -0.9), (1800, -0.7), (2000, -0.55),
               (2200, -0.5), (2400, -0.4), (2600, -0.45), (2800, -0.5), (3000, -0.35), (3200, -0.25), (3400, -0.1),
               (3600, -0.35), (3800, -0.2), (4000, -0.05), (4200, -0.2), (4400, 0.0), (4600, -0.1), (4800, -0.15),
               (5000, -0.1)]
dpysl3_dots = [(-4950, 0.02), (-4800, -0.05), (-4700, 0.05), (-4500, -0.1), (-4300, -0.3), (-4100, -0.65), (-4000, -0.75),
               (-3700, -0.35), (-3500, -0.15), (-3300, -0.25), (-3100, -0.2), (-2900, -0.1), (-2700, -0.3), (-2500, -0.4),
               (-2300, -0.45), (-2100, -0.55), (-1900, -0.4), (-1700, -0.35), (-1500, -0.5), (-1300, -0.3), (-1100, -0.45),
               (-900, -0.6), (-720, 0.5), (-700, -0.4), (-500, -0.2), (-300, -0.05), (-100, 0.05), (0, 0.0), (100, 0.02),
               (200, 0.05), (300, -0.02), (400, -0.1), (500, -0.2), (600, -0.35), (700, -0.5), (800, -0.65), (900, -0.75),
               (1000, -0.9), (1100, -0.8), (1200, -0.85), (1300, -0.95), (1400, -1.0), (1500, -0.9), (1600, -0.85),
               (1700, -0.75), (1800, -0.65), (2000, -0.6), (2200, -0.45), (2400, -0.35), (2600, -0.5), (2800, -0.55),
               (3000, -0.3), (3200, -0.2), (3400, -0.05), (3600, -0.4), (3800, -0.15), (4000, 0.0), (4200, -0.25),
               (4400, 0.3), (4460, 0.55), (4600, -0.05), (4800, -0.2), (5000, -0.1),
               (-4900, 0.0), (-4750, 0.01), (-4600, 0.0), (-4400, 0.0), (-3900, 0.01), (-3600, 0.0), (-3300, 0.0),
               (-2800, 0.01), (-2400, 0.0), (-2000, 0.0), (-1600, 0.01), (-1200, 0.0), (-800, 0.0), (-600, 0.01),
               (-400, 0.0), (-250, 0.01), (-150, 0.0), (-50, 0.01), (50, 0.0), (150, 0.01), (250, 0.0), (350, 0.01),
               (450, 0.0), (550, 0.01), (900, 0.0), (1300, 0.0), (1700, 0.01), (2200, 0.0), (2800, 0.0), (3300, 0.01),
               (3700, 0.0), (4100, 0.0), (4500, 0.01), (4850, 0.0)]

znf398_line = [(-5000, 0.0), (-4800, 0.05), (-4600, -0.05), (-4400, 0.0), (-4200, -0.15), (-4000, -0.35), (-3800, -0.55),
               (-3600, -0.3), (-3400, -0.5), (-3200, -0.65), (-3000, -0.45), (-2800, -0.6), (-2600, -0.7), (-2400, -0.5),
               (-2200, -0.65), (-2000, -0.55), (-1800, -0.7), (-1600, -0.8), (-1400, -0.7), (-1200, -0.4), (-1000, -0.2),
               (-800, -0.1), (-500, -0.05), (-200, 0.0), (0, 0.0), (300, 0.0), (600, 0.02), (900, -0.05), (1100, -0.15),
               (1300, -0.35), (1500, -0.6), (1700, -0.75), (1900, -0.5), (2100, -0.15), (2300, 0.0), (2500, -0.15),
               (2700, -0.25), (2900, -0.1), (3100, -0.2), (3300, -0.3), (3500, -0.15), (3700, -0.05), (3900, -0.2),
               (4100, -0.1), (4300, -0.3), (4500, -0.15), (4700, -0.4), (4850, -0.5), (5000, -0.2)]
znf398_dots = [(-4900, 0.02), (-4700, 0.1), (-4500, -0.05), (-4300, 0.05), (-4100, -0.25), (-3950, -0.4), (-3800, -0.89),
               (-3700, -0.5), (-3550, -0.3), (-3400, -0.45), (-3300, -0.6), (-3130, -0.77), (-3000, -0.55), (-2900, -0.4),
               (-2800, -0.65), (-2630, -0.92), (-2500, -0.55), (-2400, -0.45), (-2300, -0.7), (-2190, -0.95), (-2100, -0.6),
               (-2000, -0.5), (-1900, -0.75), (-1800, -0.65), (-1700, -0.85), (-1600, -0.9), (-1500, -1.0), (-1400, -0.75),
               (-1300, -0.6), (-1200, -0.35), (-1100, -0.25), (-1000, -0.15), (-800, -0.05), (-600, 0.02), (-400, -0.05),
               (-200, 0.0), (0, 0.02), (100, 0.0), (200, 0.03), (300, 0.0), (400, -0.02), (500, 0.0), (600, 0.05),
               (700, 0.0), (800, -0.05), (1000, -0.1), (1200, -0.3), (1400, -0.5), (1530, -0.88), (1650, -0.92),
               (1750, -0.7), (1900, -0.6), (2000, -0.35), (2200, -0.1), (2400, 0.05), (2600, -0.2), (2800, -0.3),
               (2910, -1.0), (3100, -0.15), (3300, -0.35), (3620, -0.98), (3800, -0.1), (4000, -0.25), (4200, -0.05),
               (4400, -0.35), (4600, -0.2), (4750, -0.45), (4850, -0.55), (4950, -0.3), (5000, -0.05),
               (-4850, 0.0), (-4650, 0.01), (-4400, 0.0), (-4200, 0.0), (-3900, 0.01), (-3600, 0.0), (-3300, 0.0),
               (-3000, 0.01), (-2700, 0.0), (-2400, 0.0), (-2100, 0.01), (-1800, 0.0), (-1500, 0.0), (-1200, 0.01),
               (-900, 0.0), (-700, 0.0), (-500, 0.01), (-300, 0.0), (-150, 0.01), (-50, 0.0), (50, 0.01), (150, 0.0),
               (250, 0.01), (350, 0.0), (450, 0.01), (550, 0.0), (650, 0.01), (750, 0.0), (850, 0.01), (950, 0.0),
               (1100, 0.0), (1300, 0.01), (1600, 0.0), (2000, 0.0), (2300, 0.01), (2700, 0.0), (3100, 0.0), (3500, 0.01),
               (3900, 0.0), (4300, 0.0), (4600, 0.01), (4800, 0.0), (4950, 0.0)]

usp44_line = [(-5000, 0.06), (-4850, -0.09), (-4700, 0.06), (-4550, -0.04), (-4390, 0.03), (-4170, -0.06), (-4020, -0.24),
              (-3860, -0.38), (-3710, -0.43), (-3560, -0.33), (-3410, -0.48), (-3260, -0.53), (-3110, -0.41), (-2950, -0.33),
              (-2760, -0.38), (-2580, -0.58), (-2420, -0.73), (-2240, -0.92), (-2050, -0.95), (-1890, -0.82), (-1740, -0.55),
              (-1590, -0.63), (-1360, -0.87), (-1210, -0.92), (-1060, -0.82), (-910, -0.85), (-760, -0.73), (-580, -0.63),
              (-380, -0.43), (-230, -0.24), (-80, -0.01), (80, 0.01), (300, 0.01), (530, 0.06), (680, 0.13), (830, -0.01),
              (1060, 0.0), (1360, -0.01), (1670, -0.06), (1890, -0.16), (2050, -0.24), (2200, -0.19), (2350, -0.28),
              (2550, -0.33), (2730, -0.38), (2880, -0.55), (3030, -0.80), (3150, -0.92), (3260, -0.73), (3410, -0.58),
              (3560, -0.36), (3710, 0.06), (3860, 0.16), (3970, 0.40), (4090, 0.57), (4240, 0.43), (4390, 0.21),
              (4550, 0.03), (4670, 0.35), (4730, 0.25), (4820, -0.06), (4920, 0.03), (5000, -0.11)]
usp44_dots = [(-4920, 0.16), (-4850, -0.01), (-4700, -0.26), (-4550, 0.03), (-4470, 0.13), (-4320, -0.01), (-4170, -0.09),
              (-4090, -0.16), (-4020, -0.24), (-3940, -0.36), (-3710, -0.43), (-3560, -0.5), (-3260, -0.53), (-3030, -0.6),
              (-2880, -0.26), (-2800, -0.33), (-2730, -0.31), (-2650, -0.36), (-2580, -0.38), (-2350, -0.73), (-2120, -0.97),
              (-1970, -0.97), (-1850, -0.46), (-1390, -0.87), (-1330, -0.73), (-1210, -0.92), (-1140, -0.75), (-1060, -0.63),
              (-980, -0.92), (-910, -0.87), (-760, -0.82), (-450, -0.53), (-410, -0.33), (-330, -0.24), (-270, -0.38),
              (-180, -0.48), (-150, -0.01), (-110, 0.13), (150, 0.5), (600, 0.98), (680, -0.24), (760, 0.13), (910, 0.01),
              (1060, -0.01), (1970, -0.06), (2120, -0.19), (2200, -0.43), (2350, -0.16), (2420, -0.38), (2500, -0.48),
              (2580, -0.6), (2650, -0.63), (2730, -0.53), (2800, -0.68), (2880, -0.58), (3030, -0.80), (3260, -0.68),
              (3360, -0.73), (3480, -0.53), (3640, -0.06), (3970, 0.40), (4090, 0.65), (4390, 0.21), (4550, -0.04),
              (4620, 0.50), (4700, 0.48), (4770, 0.18), (4820, 0.01), (4920, -0.14), (5000, -0.19),
              (-4800, 0.0), (-4650, 0.01), (-4400, 0.0), (-4250, 0.01), (-3800, 0.0), (-3600, 0.0), (-3400, 0.01),
              (-3200, 0.0), (-3000, 0.0), (-2800, 0.01), (-2600, 0.0), (-2200, 0.0), (-2050, 0.01), (-1800, 0.0),
              (-1600, 0.0), (-400, 0.0), (-300, 0.01), (-200, 0.0), (-50, 0.02), (0, 0.0), (50, 0.01), (100, 0.02),
              (200, 0.0), (250, 0.01), (350, 0.0), (400, 0.02), (450, 0.0), (500, 0.01), (550, 0.0), (700, 0.01),
              (800, 0.0), (1500, 0.0), (1650, 0.01), (1800, 0.0), (2000, 0.0), (3450, 0.0), (3550, 0.01), (4400, 0.0),
              (4500, 0.01), (4650, 0.0), (4750, 0.01), (4850, 0.0), (4950, 0.01)]

scnn1a_line = [(-5000, -0.14), (-4850, 0.06), (-4700, 0.11), (-4590, 0.40), (-4500, 0.5), (-4390, 0.35), (-4240, 0.11),
               (-4090, 0.01), (-3940, 0.06), (-3790, 0.03), (-3640, 0.11), (-3480, 0.06), (-3330, 0.03), (-3180, 0.18),
               (-3080, 0.25), (-2950, 0.06), (-2800, -0.01), (-2500, -0.01), (-2270, -0.04), (-2120, -0.24), (-1970, -0.28),
               (-1820, -0.19), (-1670, -0.24), (-1520, -0.33), (-1360, -0.46), (-1210, -0.58), (-1060, -0.68), (-910, -0.82),
               (-760, -0.85), (-610, -0.92), (-450, -0.90), (-300, -0.92), (-150, -0.87), (0, -0.82), (150, -0.77),
               (300, -0.63), (450, -0.53), (610, -0.46), (760, -0.58), (910, -0.70), (1060, -0.63), (1210, -0.73),
               (1360, -0.82), (1520, -0.65), (1670, -0.53), (1820, -0.58), (1970, -0.70), (2120, -0.82), (2270, -0.95),
               (2420, -1.0), (2580, -0.92), (2730, -0.38), (2800, 0.21), (2950, 0.35), (3110, 0.40), (3230, 0.60),
               (3330, 0.35), (3480, 0.01), (3640, -0.04), (3790, -0.14), (3940, -0.33), (4090, -0.38), (4240, -0.46),
               (4390, -0.5), (4550, -0.43), (4700, -0.43), (4850, -0.24), (5000, -0.19)]
scnn1a_dots = [(-4920, -0.28), (-4700, 0.06), (-4590, 0.25), (-4500, 0.5), (-4440, 0.45), (-4320, 0.11), (-4020, 0.01),
               (-3860, -0.01), (-3640, 0.08), (-3480, 0.11), (-3330, 0.06), (-3180, 0.5), (-3140, 0.25), (-3080, -0.19),
               (-2880, -0.16), (-2500, -0.01), (-2270, -0.01), (-2120, -0.33), (-2050, -0.33), (-1890, -0.14),
               (-1820, -0.36), (-1670, -0.24), (-1590, -0.33), (-1520, -0.19), (-1440, -0.38), (-1360, -0.38),
               (-1210, -0.5), (-1140, 0.06), (-980, -0.01), (-830, -0.11), (-710, -0.82), (-610, -0.97), (-530, -0.87),
               (-450, -0.92), (-300, -0.87), (-230, -0.92), (-150, -0.48), (-80, -0.92), (0, -0.82), (80, -0.65),
               (150, -0.97), (380, -0.82), (530, -0.58), (610, -0.36), (680, -0.46), (760, -0.58), (910, -0.70),
               (980, -0.8), (1060, -0.95), (1140, -1.0), (1170, -0.38), (1210, -0.65), (1290, -0.77), (1360, -0.82),
               (1410, -0.58), (1520, -1.0), (1590, -0.87), (1740, -0.68), (1890, -0.58), (2050, -0.6), (2200, -0.85),
               (2350, -0.97), (2580, -0.82), (2650, -0.48), (2730, -0.38), (2800, 0.45), (2950, 0.35), (3030, 0.25),
               (3110, 0.40), (3180, 0.70), (3230, 0.62), (3330, 0.35), (3410, 0.18), (3480, 0.01), (3640, -0.09),
               (3710, -0.19), (3860, -0.33), (3940, -0.14), (4090, -0.38), (4170, -0.65), (4320, -0.33), (4390, -0.38),
               (4470, -0.48), (4550, -0.14), (4620, -0.24), (4700, -0.77), (4770, -0.43), (4850, -0.24), (4920, -0.24),
               (-4800, 0.0), (-4650, 0.01), (-4200, 0.0), (-4100, 0.01), (-3950, 0.0), (-3750, 0.0), (-3600, 0.01),
               (-3400, 0.0), (-2700, 0.0), (-2400, 0.01), (-2000, 0.0), (-1750, 0.01), (-1300, 0.0), (-1000, 0.01),
               (-850, 0.0), (-700, 0.0), (-400, 0.01), (-200, 0.0), (-100, 0.0), (200, 0.01), (400, 0.0), (600, 0.0),
               (800, 0.01), (1000, 0.0), (1200, 0.0), (1300, 0.01), (1450, 0.0), (1800, 0.0), (2000, 0.01), (2300, 0.0),
               (2500, 0.0), (2900, 0.01), (3100, 0.0), (3300, 0.0), (3500, 0.01), (3700, 0.0), (3900, 0.0), (4000, 0.01),
               (4200, 0.0), (4400, 0.01), (4600, 0.0), (4800, 0.0), (4950, 0.01)]

genes = ["DPPA4", "MID1IP1", "SERINC5", "ZNF649", "SLC38A1", "SLC7A5", "RBM47", "HIST1H2BE",
         "HIST1H3J", "WNT5B", "DPYSL3", "ZNF398", "USP44", "SCNN1A"]
scores = ["4", "1.062", "1.502", "3.8468", "1.3316", "1.3406", "1.1176", "2.1075",
          "1.3125", "\u22124.6376", "1.7331", "2.0228", "2.6546", "1.6845"]
score_colors = ["#ff1e1e", "#6e1010", "#7a1212", "#f01c1c", "#741212", "#741212", "#701010", "#9a1818",
                "#741212", "#33ee33", "#861414", "#961616", "#c81a1a", "#821414"]
label_high = [False, False, True, False, False, True, True, False,
              False, True, True, True, True, True]
panel_col = [0, 1, 2, 3, 0, 1, 2, 3, 0, 1, 2, 3, 0, 1]
panel_row = [0, 0, 0, 0, 1, 1, 1, 1, 2, 2, 2, 2, 3, 3]
lines = [dppa4_line, mid1ip1_line, serinc5_line, znf649_line, slc38a1_line, slc7a5_line, rbm47_line, hist1h2be_line,
         hist1h3j_line, wnt5b_line, dpysl3_line, znf398_line, usp44_line, scnn1a_line]
dots = [dppa4_dots, mid1ip1_dots, serinc5_dots, znf649_dots, slc38a1_dots, slc7a5_dots, rbm47_dots, hist1h2be_dots,
        hist1h3j_dots, wnt5b_dots, dpysl3_dots, znf398_dots, usp44_dots, scnn1a_dots]

y_ticks = [-1, -0.5, 0, 0.5, 1]
y_tick_labels = ["\u22121", "\u22120.5", "0", "0.5", "1"]
x_ticks = [-5000, 0, 5000]
x_tick_labels = ["\u22125000", "0", "5000"]
title = "Cluster   6   p-value   0.00001898   size   14"

# ---- layout ----
sns.set_style("white")
plt.rcParams["font.family"] = ["Liberation Sans", "DejaVu Sans"]

W, H = 1567, 600
fig = plt.figure(figsize=(W / 100, H / 100), dpi=100)
col_left = [41, 426, 811, 1195]
row_top = [11, 152.5, 294, 436]
pw, ph = 337, 136
last_row = {0: 3, 1: 3, 2: 2, 3: 2}

for i, gene in enumerate(genes):
    c, r = panel_col[i], panel_row[i]
    ax = fig.add_axes([col_left[c] / W, 1 - (row_top[r] + ph) / H, pw / W, ph / H])
    lx, ly = zip(*lines[i])
    dx, dy = zip(*dots[i])

    ax.axvline(0, color="#a0a0ff", lw=0.9, zorder=1)
    sns.lineplot(x=list(lx), y=list(ly), estimator=None, color="#3a3a3a", lw=0.8, ax=ax, zorder=2)
    ax.axhline(0, color="#2a2aff", lw=1.6, zorder=3)
    ax.plot(dx, np.zeros(len(dx)), ls="none", marker="|", ms=8, mew=1.3, color="#3a3aff", zorder=3)
    sns.scatterplot(x=list(dx), y=list(dy), color="black", s=9, linewidth=0, ax=ax, zorder=4)

    ax.set_xlim(-5000, 5000)
    ax.set_ylim(-1, 1)
    ax.set_xlabel("")
    ax.set_ylabel("")
    ax.set_yticks(y_ticks)
    ax.set_xticks(x_ticks)
    if c == 0:
        ax.set_yticklabels(y_tick_labels)
    else:
        ax.set_yticklabels([])
    if r == last_row[c]:
        ax.set_xticklabels(x_tick_labels)
    else:
        ax.set_xticklabels([])
    ax.tick_params(axis="y", length=0, labelsize=10, pad=3, colors="#222222")
    ax.tick_params(axis="x", length=0, labelsize=10.5, pad=3, colors="#222222")
    for s in ax.spines.values():
        s.set_color("#6a6a6a")
        s.set_linewidth(1.0)

    name_y, score_y = (0.70, 0.26) if label_high[i] else (-0.40, -0.84)
    ax.text(-4620, name_y, gene, color="#2020e0", fontsize=18, va="center", ha="left", zorder=5)
    ax.text(-4620, score_y, scores[i], color=score_colors[i], fontsize=18, fontweight="bold",
            va="center", ha="left", zorder=5)

fig.text(30 / W, -15 / H, title, fontsize=25, color="black", ha="left", va="baseline")

fig.savefig("out.png", dpi=100)
